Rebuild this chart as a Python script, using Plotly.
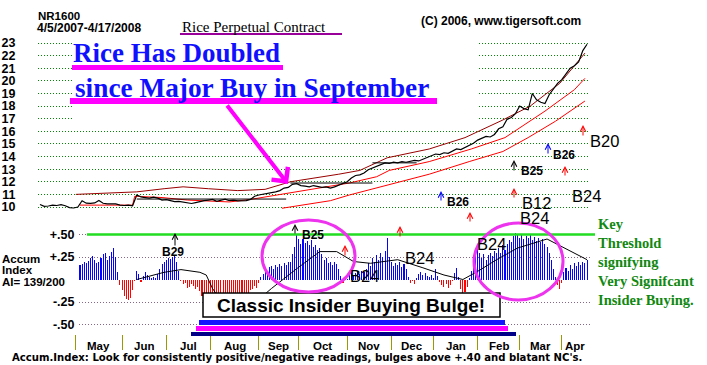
import plotly.graph_objects as go

# ---------------- pixel geometry helpers (layout only) ----------------
W_PX, H_PX = 707, 365
L_PX, R_PX = 38, 590          # price plot area left/right
IDX0_PX = 40.0                # pixel of trading-day index 0
PX_PER_DAY = 2.104


def px2idx(px):
    return (px - IDX0_PX) / PX_PER_DAY


def fx(px):
    return (px - L_PX) / (R_PX - L_PX)


def fy(py):
    return 1 - py / H_PX


def price_at(py):      # price-axis value at a pixel row
    return 10 + (207 - py) / 12.615


def ai_at(py):         # accum-index value at a pixel row
    return (279.5 - py) / 90.0


# ---------------- data ----------------
month_labels = ["May", "Jun", "Jul", "Aug", "Sep", "Oct", "Nov", "Dec", "Jan", "Feb", "Mar", "Apr"]
month_start_idx = [17, 39, 60, 81, 104, 123, 146, 167, 187, 208, 228, 248]
last_idx = 261

price_idx = list(range(0, 261, 2))
price_close = [
    10.2, 10.05, 10.08, 10.15, 10.12, 10.18, 10.1, 9.95, 9.92, 10.0,
    10.5, 10.3, 10.28, 10.32, 10.52, 10.3, 10.25, 10.22, 10.25, 10.15,
    10.12, 10.15, 10.1, 10.95, 10.8, 10.75, 10.7, 10.78, 10.7, 10.55,
    10.58, 10.5, 10.42, 10.45, 10.38, 10.3, 10.28, 10.35, 10.45, 10.5,
    10.55, 10.6, 10.45, 10.55, 10.62, 10.5, 10.55, 10.48, 10.52, 10.5,
    10.6, 10.85, 10.95, 11.0, 11.05, 11.15, 11.2, 11.3, 11.5, 11.55,
    11.8, 11.85, 11.7, 11.65, 11.6, 11.7, 11.62, 11.55, 11.6, 11.5,
    11.6, 11.75, 11.9, 12.0, 12.3, 12.5, 12.55, 12.7, 12.95, 13.1,
    13.2, 13.4, 13.5, 13.45, 13.55, 13.5, 13.6, 13.55, 13.6, 13.7,
    13.65, 13.8, 13.95, 14.1, 14.2, 14.15, 14.3, 14.25, 14.45, 14.6,
    14.55, 14.7, 14.85, 15.05, 15.3, 15.45, 15.6, 15.55, 15.75, 16.2,
    16.35, 16.95, 17.1, 17.4, 18.0, 17.8, 17.7, 19.0, 18.5, 18.3,
    18.2, 18.9, 19.4, 19.8, 20.1, 20.6, 21.0, 21.2, 21.5, 22.4,
    22.9,
]

upper_idx = [17, 33, 46, 59, 68, 80, 94, 107, 119, 142, 152, 165, 185, 202, 220, 233, 247, 259]
upper_val = [11.0, 11.1, 11.2, 11.45, 11.6, 11.45, 11.3, 11.4, 12.0, 12.6, 12.9, 13.9, 14.6, 15.5, 16.9, 18.0, 19.8, 22.2]

middle_idx = [19, 44, 45, 58, 70, 80, 90, 100, 115, 130, 147, 160, 166, 185, 205, 221, 240, 254, 259]
middle_val = [10.15, 10.15, 10.85, 10.75, 10.55, 10.45, 10.4, 10.6, 11.0, 11.4, 11.9, 12.4, 12.9, 13.6, 14.6, 15.5, 17.6, 19.3, 20.2]

lower_idx = [115, 138, 147, 166, 185, 204, 220, 232, 245, 259]
lower_val = [9.9, 10.5, 10.95, 11.8, 12.6, 13.6, 14.4, 15.5, 16.8, 18.4]

flat_start = [46, 119, 158]
flat_end = [117, 158, 179]
flat_level = [10.63, 11.9, 13.5]

ai_start_idx = 19
ai_values = [
    0.16,
    0.17, 0.19, 0.18, 0.21, 0.24, 0.26, 0.22, 0.18, 0.19, 0.24,
    0.28, 0.29, 0.22, 0.26, 0.31, 0.345, 0.25, 0.08, -0.06, -0.12,
    -0.18, -0.22, -0.23, -0.21, -0.12, -0.02, 0.09, 0.06, -0.03, 0.04,
    0.08, 0.05, 0.03, 0.02, 0.03, 0.02, 0.06, 0.12, 0.17, 0.19,
    0.22, 0.24, 0.23, 0.25, 0.27, 0.2, 0.1, -0.02, -0.05, -0.04,
    -0.09, -0.08, -0.05, -0.07, -0.1, -0.08, -0.13, -0.18, -0.22, -0.2,
    -0.24, -0.2, -0.17, -0.19, -0.21, -0.18, -0.2, -0.17, -0.19, -0.2,
    -0.18, -0.17, -0.19, -0.2, -0.18, -0.17, -0.19, -0.16, -0.18, -0.15,
    -0.12, -0.1, -0.07, -0.09, -0.04, 0.03, 0.06, 0.1, 0.08, 0.14,
    0.15, 0.12, 0.16, 0.14, 0.17, 0.15, 0.18, 0.16, 0.19, 0.2,
    0.28, 0.36, 0.51, 0.45, 0.39, 0.45, 0.41, 0.43, 0.38, 0.44,
    0.36, 0.38, 0.33, 0.35, 0.28, 0.22, 0.24, 0.18, 0.2, 0.16,
    0.19, 0.17, 0.12, 0.04, -0.04, 0.02, 0.01, 0.05, 0.08, 0.04,
    0.07, 0.09, 0.06, 0.1, 0.08, 0.12, 0.18, 0.15, 0.24, 0.2,
    0.27, 0.22, 0.29, 0.25, 0.32, 0.46, 0.25, 0.2, 0.15, 0.18,
    0.16, 0.19, 0.14, 0.17, 0.12, 0.03, -0.04, -0.02, -0.05, 0.02,
    0.06, 0.08, 0.05, 0.07, 0.04, 0.03, 0.05, 0.02, 0.12, 0.04,
    -0.03, -0.06, -0.08, -0.05, -0.09, -0.06, -0.02, 0.07, 0.13, 0.03,
    -0.1, -0.16, -0.14, -0.08, 0.02, 0.1, 0.2, 0.32, 0.36, 0.3,
    0.24, 0.28, 0.22, 0.27, 0.3, 0.26, 0.32, 0.29, 0.35, 0.3,
    0.38, 0.33, 0.4, 0.44, 0.42, 0.48, 0.52, 0.5, 0.46, 0.49,
    0.45, 0.48, 0.46, 0.5, 0.44, 0.47, 0.43, 0.46, 0.42, 0.45,
    0.4, 0.36, 0.3, 0.22, 0.12, 0.03, -0.06, -0.1, -0.04, 0.08,
    0.13, 0.1, 0.16, 0.12, 0.18, 0.15, 0.19, 0.16, 0.2, 0.18,
    0.22,
]
ai_idx = list(range(ai_start_idx, ai_start_idx + len(ai_values)))

ma_idx = [46, 52, 59, 67, 76, 79, 82, 85, 95, 105, 110, 122, 133, 141, 149, 157, 170, 182, 192, 201, 208, 217, 227, 241, 249, 260]
ma_val = [0.0, 0.04, 0.08, 0.11, 0.08, 0.05, -0.1, -0.2, -0.22, -0.2, -0.1, 0.12, 0.31, 0.31, 0.2, 0.18, 0.22, 0.13, 0.05, 0.0, 0.09, 0.22, 0.35, 0.45, 0.35, 0.22]

price_ticks = list(range(10, 24))
ai_ticks = [0.5, 0.25, -0.25, -0.5]
ai_ticktext = ["+.50", "+.25", "-.25", "-.50"]

# ---------------- figure ----------------
fig = go.Figure()

fig.add_trace(go.Scatter(x=upper_idx, y=upper_val, mode="lines", line=dict(color="#990000", width=1), xaxis="x", yaxis="y"))
fig.add_trace(go.Scatter(x=middle_idx, y=middle_val, mode="lines", line=dict(color="#ff0000", width=1), xaxis="x", yaxis="y"))
fig.add_trace(go.Scatter(x=lower_idx, y=lower_val, mode="lines", line=dict(color="#ff0000", width=1), xaxis="x", yaxis="y"))

fx_pts, fy_pts = [], []
for a, b, lv in zip(flat_start, flat_end, flat_level):
    fx_pts += [a, b, None]
    fy_pts += [lv, lv, None]
fig.add_trace(go.Scatter(x=fx_pts, y=fy_pts, mode="lines", line=dict(color="black", width=1), xaxis="x", yaxis="y"))

fig.add_trace(go.Scatter(x=price_idx, y=price_close, mode="lines", line=dict(color="black", width=1.2), xaxis="x", yaxis="y"))

# near-opaque colours make plotly round each thin bar to whole pixels (striped look)
fig.add_trace(go.Bar(x=ai_idx, y=ai_values, width=0.5,
                     marker=dict(color=["rgba(0,0,255,0.99)" if v >= 0 else "rgba(255,0,0,0.99)" for v in ai_values],
                                 line=dict(width=0)),
                     xaxis="x2", yaxis="y2"))
fig.add_trace(go.Scatter(x=ma_idx, y=ma_val, mode="lines", line=dict(color="black", width=1), xaxis="x2", yaxis="y2"))

bold = "Liberation Sans"
mid_idx = [(a + b) / 2 for a, b in zip(month_start_idx, month_start_idx[1:] + [last_idx])]

fig.update_layout(
    width=W_PX, height=H_PX,
    margin=dict(l=L_PX, r=W_PX - R_PX, t=0, b=0),
    paper_bgcolor="white", plot_bgcolor="white",
    showlegend=False, bargap=0,
    xaxis=dict(domain=[0, 1], range=[px2idx(L_PX), px2idx(R_PX)], anchor="free", position=fy(350),
               showgrid=False, zeroline=False, showline=False, automargin=False,
               tickmode="array", tickvals=month_start_idx, ticks="inside", ticklen=15,
               tickcolor="#999900", tickwidth=1, showticklabels=False),
    yaxis=dict(domain=[fy(212), fy(38)], range=[price_at(212), price_at(38)], anchor="x",
               tickmode="array", tickvals=price_ticks, showgrid=True, gridcolor="#008800", griddash="1px,2px",
               gridwidth=1, zeroline=False, showline=False, ticks="outside", ticklen=19,
               tickcolor="rgba(0,0,0,0)", automargin=False,
               tickfont=dict(family=bold, size=12.5, color="black", weight="bold")),
    xaxis2=dict(domain=[fx(79), 1], range=[px2idx(79), px2idx(R_PX)], anchor="y2",
                showticklabels=False, showgrid=False, zeroline=False, showline=False, ticks="", automargin=False),
    yaxis2=dict(domain=[fy(332), fy(222)], range=[ai_at(332), ai_at(222)], anchor="x2",
                tickmode="array", tickvals=ai_ticks, ticktext=ai_ticktext, showgrid=True,
                gridcolor="#886688", griddash="1px,2px", gridwidth=1, zeroline=False, showline=False,
                ticks="outside", ticklen=1, tickcolor="rgba(0,0,0,0)", automargin=False,
                tickfont=dict(family=bold, size=12.5, color="black", weight="bold")),
)

shapes = []


def rect(x0, y0, x1, y1, fill, line_color=None, lw=0):
    return dict(type="rect", xref="paper", yref="paper", x0=fx(x0), x1=fx(x1), y0=fy(y1), y1=fy(y0),
                fillcolor=fill, line=dict(color=line_color or fill, width=lw), layer="above")


# white patch where the title texts were pasted over the grid
shapes.append(rect(72, 37, 477, 124, "white"))
# magenta underlines
shapes.append(rect(72, 65, 283, 70, "#ff00ff"))
shapes.append(rect(70, 98, 437, 104, "#ff00ff"))
# purple underline of title
shapes.append(rect(180, 33, 342, 35, "#990099"))
# green threshold line at +.50
shapes.append(dict(type="line", xref="paper", yref="y2", x0=fx(87), x1=fx(595), y0=0.5, y1=0.5,
                   line=dict(color="#22dd22", width=2.5), layer="above"))
# bulge box
shapes.append(rect(203, 293, 500, 317, "white", "black", 1.5))
# coloured strokes below the box
shapes.append(rect(199, 320, 505, 325, "#1414ff"))
shapes.append(rect(196, 326, 508, 331, "#ff00ff"))
shapes.append(rect(191, 332, 516, 336, "#000088"))
# magenta circles
for x0, y0, x1, y1 in [(262, 220, 355, 292), (474, 223, 563, 300)]:
    shapes.append(dict(type="circle", xref="paper", yref="paper", x0=fx(x0), x1=fx(x1), y0=fy(y1), y1=fy(y0),
                       line=dict(color="#ee33ee", width=3), layer="above"))
fig.update_layout(shapes=shapes)

ann = []


def txt(text, xpx, ypx, size, color="black", family=bold, b=True, xanchor="left"):
    ann.append(dict(text=text, x=fx(xpx), y=fy(ypx), xref="paper", yref="paper", xanchor=xanchor,
                    yanchor="middle", showarrow=False, borderpad=0,
                    font=dict(size=size, color=color, family=family, weight="bold" if b else "normal")))


def up_arrow(xpx, yhead, ytail, color):
    ann.append(dict(text="", x=fx(xpx), y=fy(yhead), xref="paper", yref="paper", ax=0, ay=ytail - yhead,
                    showarrow=True, arrowhead=5, arrowsize=1.1, arrowwidth=1, arrowcolor=color))


# month labels, centred in each month on the shared trading-day axis
for lab, m in zip(month_labels, mid_idx):
    ann.append(dict(text=lab, x=m, y=fy(346), xref="x", yref="paper", xanchor="center", yanchor="middle",
                    showarrow=False, borderpad=0,
                    font=dict(size=11.5, color="black", family=bold, weight="bold")))

serif = "Liberation Serif"
txt("NR1600", 37, 16.5, 11.5)
txt("4/5/2007-4/17/2008", 36, 28, 12)
txt("Rice Perpetual Contract", 181, 27, 15, family=serif, b=False)
txt("(C) 2006, www.tigersoft.com", 420, 21, 12)
txt("Rice Has Doubled", 72, 53, 27, color="#1010ff", family=serif)
txt("since Major Buy in September", 74, 88, 27.3, color="#1010ff", family=serif)

txt("Accum", 1, 259, 11.5)
txt("Index", 1, 270, 11.5)
txt("AI= 139/200", 1, 282, 11.5)

txt("Classic Insider Buying Bulge!", 351, 305, 19, xanchor="center")
txt("Accum.Index: Look for consistently positive/negative readings, bulges above +.40 and blatant NC's.",
    11, 357, 10.1, family="DejaVu Sans")

for i, line in enumerate(["Key", "Threshold", "signifying", "Very Signifcant", "Insider Buying."]):
    txt(line, 597, 224 + i * 19, 14.5, color="#118811", family=serif)

# signal arrows
for xpx, yh, yt, col in [(583, 125, 137, "#ff0000"), (548, 143, 155, "#0000ff"), (514, 160, 172, "black"),
                         (565, 166, 177, "#ff0000"), (514, 188, 199, "#ff0000"), (441, 191, 202, "#0000ff"),
                         (470, 212, 223, "#ff0000"), (400, 226, 238, "#ff0000"), (345, 245, 257, "#ff0000"),
                         (295, 224, 235, "black"), (175, 233, 247, "black")]:
    up_arrow(xpx, yh, yt, col)

# signal labels
for t, xpx, ypx, big in [("B20", 589, 141, True), ("B26", 552, 155, False), ("B25", 520, 171, False),
                         ("B12", 521, 203, True), ("B24", 571, 196, True), ("B26", 446, 202, False),
                         ("B24", 519, 218, True), ("B25", 301, 235, False), ("B29", 161, 252, False),
                         ("B24", 349, 276, True), ("B24", 404, 258, True), ("B24", 476, 244, True)]:
    if big:
        txt(t, xpx, ypx, 16.5, b=False)
    else:
        txt(t, xpx, ypx, 12)

# magenta pointer arrow
ann.append(dict(text="", x=fx(288), y=fy(184), xref="paper", yref="paper", ax=226 - 288, ay=104 - 184,
                showarrow=True, arrowhead=4, arrowsize=1, arrowwidth=4, arrowcolor="#ff00ff"))

fig.update_layout(annotations=ann)

fig.write_html("out.html", config={"displayModeBar": False},
               post_script="document.body.style.margin='0';")
